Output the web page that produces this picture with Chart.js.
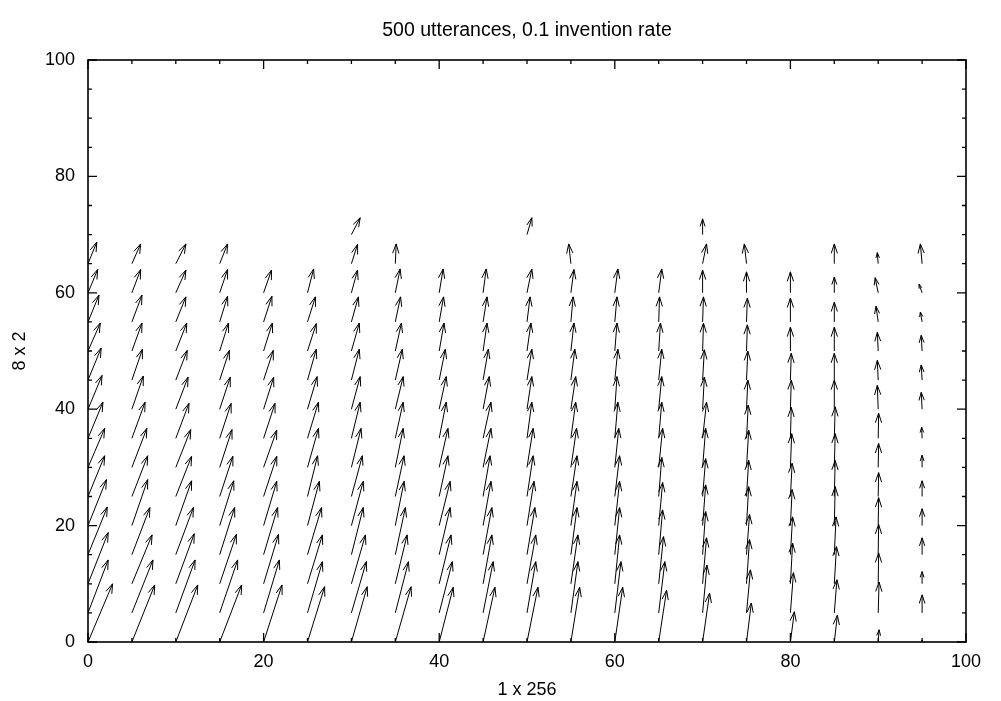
<!DOCTYPE html>
<html>
<head>
<meta charset="utf-8">
<script src="https://cdn.jsdelivr.net/npm/chart.js@4.4.1/dist/chart.umd.min.js"></script>
<style>
  html, body { margin:0; padding:0; background:#fff; }
</style>
</head>
<body>
<canvas id="c" width="1001" height="701"></canvas>
<script>
// grid of arrow origins
const colX = [0,5,10,15,20,25,30,35,40,45,50,55,60,65,70,75,80,85,90,95];
const rowY = [0,5,10,15,20,25,30,35,40,45,50,55,60,65,70];

// arrow components, one line per column (rows y = 0..70), null = no arrow
const dxCols = [
  [2.8,2.3,2.3,2.2,2.1,1.9,1.9,1.7,1.6,1.5,1.4,1.25,1.1,1.0,null],
  [2.6,2.4,2.3,2.05,1.8,1.8,1.7,1.5,1.3,1.2,1.15,1.15,1.0,1.0,null],
  [2.5,2.2,2.1,2.0,1.8,1.8,1.7,1.5,1.4,1.3,1.25,1.15,1.15,1.15,null],
  [2.5,2.05,1.9,1.7,1.6,1.5,1.4,1.3,1.2,1.1,1.0,0.9,0.9,0.9,null],
  [2.1,1.8,1.7,1.6,1.5,1.5,1.5,1.3,1.15,1.1,1.0,0.95,0.9,null,null],
  [1.95,1.7,1.7,1.6,1.35,1.15,1.25,1.25,1.1,1.0,1.0,0.9,0.7,null,null],
  [1.8,1.7,1.6,1.35,1.35,1.25,1.1,1.0,1.0,0.9,0.9,0.8,0.7,0.7,1.0],
  [1.8,1.5,1.35,1.15,1.0,1.0,0.9,0.9,0.9,0.8,0.7,0.6,0.55,0.1,null],
  [1.6,1.5,1.35,1.25,1.25,1.0,1.0,0.8,0.8,0.7,0.55,0.5,0.45,null,null],
  [1.35,1.15,1.0,1.0,0.9,0.8,0.9,0.9,0.7,0.6,0.45,0.45,0.35,null,null],
  [1.25,1.0,1.0,0.9,0.8,0.7,0.7,0.55,0.55,0.55,0.45,0.35,0.55,null,0.55],
  [1.0,0.8,0.8,0.7,0.7,0.7,0.65,0.55,0.55,0.45,0.35,0.25,0.35,-0.25,null],
  [0.9,0.7,0.55,0.55,0.55,0.55,0.45,0.35,0.25,0.35,0.25,0.25,0.35,null,null],
  [0.9,0.7,0.55,0.45,0.45,0.35,0.45,0.35,0.35,0.35,0.2,0.1,0.35,null,null],
  [0.8,0.5,0.45,0.35,0.35,0.35,0.35,0.45,0.2,0.2,0.1,0.1,0.0,0.45,0.0],
  [0.55,0.45,0.35,0.35,0.25,0.25,0.25,0.2,0.15,0.15,0.1,0.1,0.0,-0.25,null],
  [0.45,0.35,0.25,0.25,0.2,0.2,0.15,0.1,0.1,0.1,0.0,0.0,0.0,null,null],
  [0.35,0.3,0.25,0.2,0.1,0.1,0.1,0.1,0.0,0.0,0.0,0.0,0.0,0.0,null],
  [0.1,0.1,0.05,0.05,0.05,0.05,0.05,0.05,-0.1,-0.1,-0.1,-0.25,-0.35,-0.1,null],
  [0.0,0.0,0.0,0.0,0.0,0.0,0.0,-0.05,-0.1,-0.1,-0.1,-0.2,-0.35,-0.2,null]
];
const dyCols = [
  [10.0,9.1,8.8,8.2,7.9,7.0,6.7,6.2,5.8,5.5,4.8,4.6,4.0,3.7,null],
  [9.8,9.1,8.4,8.1,7.9,7.0,6.7,6.2,5.7,5.3,4.8,4.6,4.0,3.4,null],
  [9.8,9.1,8.6,8.1,7.7,6.9,6.5,6.0,5.5,5.1,4.8,4.3,3.9,3.4,null],
  [9.8,9.1,8.5,8.1,7.7,6.9,6.5,6.0,5.5,5.1,4.8,4.4,4.0,3.4,null],
  [9.8,9.1,8.5,8.1,7.6,6.9,6.4,6.0,5.5,5.1,4.8,4.4,3.9,null,null],
  [9.5,8.8,8.4,8.1,7.6,7.0,6.7,6.2,5.6,5.3,4.7,4.3,4.1,null,null],
  [9.5,8.8,8.4,8.1,7.6,7.0,6.7,6.2,5.6,5.3,4.8,4.3,3.9,3.3,2.9],
  [9.5,8.8,8.4,8.1,7.6,7.0,6.7,6.2,5.6,5.3,4.8,4.3,4.1,3.4,null],
  [9.4,8.8,8.4,8.1,7.6,7.0,6.7,6.2,5.6,5.3,4.8,4.3,4.1,null,null],
  [9.4,8.8,8.4,8.1,7.6,7.0,6.7,6.2,5.6,5.3,4.8,4.3,4.1,null,null],
  [9.4,8.8,8.4,8.1,7.6,7.0,6.7,6.2,5.6,5.3,4.8,4.3,4.1,null,2.9],
  [9.4,8.8,8.4,8.1,7.6,7.0,6.7,6.2,5.6,5.3,4.8,4.3,4.0,3.4,null],
  [9.4,8.8,8.4,8.1,7.6,7.0,6.7,6.2,5.6,5.3,4.8,4.3,4.1,null,null],
  [8.9,8.8,8.1,7.7,7.4,6.7,6.7,6.2,5.6,5.3,4.8,4.3,4.1,null,null],
  [8.4,8.2,7.9,7.4,7.0,6.5,6.7,6.2,5.5,5.2,4.8,4.3,3.9,3.4,2.7],
  [6.7,7.4,7.6,6.9,6.7,6.2,6.4,5.7,5.0,5.0,4.5,4.1,3.6,3.4,null],
  [5.2,6.9,7.0,6.5,6.2,5.7,5.8,5.3,5.0,4.6,4.1,4.1,3.6,null,null],
  [4.6,5.7,6.4,6.5,6.7,6.2,5.8,5.4,5.0,4.6,4.1,3.4,2.7,3.4,null],
  [2.1,5.3,5.3,5.2,4.8,4.1,4.1,4.3,4.1,3.4,3.2,2.7,2.6,1.9,null],
  [0.3,3.1,2.1,2.9,2.9,2.7,2.1,1.9,2.9,2.6,2.7,1.7,1.5,3.4,null]
];

const majorTicks = [0,20,40,60,80,100];
const minorTicks = [5,10,15,25,30,35,45,50,55,65,70,75,85,90,95];

const arrows = [];
colX.forEach((x,i)=>{
  rowY.forEach((y,j)=>{
    const dx = dxCols[i][j], dy = dyCols[i][j];
    if(dx === null || dy === null) return;
    arrows.push({x:x, y:y, dx:dx, dy:dy});
  });
});

const FONT = "'Liberation Sans', Arial, Helvetica, sans-serif";

// gnuplot-like border with mirrored major/minor tics
const framePlugin = {
  id:'frame',
  afterDraw(chart){
    const {ctx, chartArea:a, scales:{x:sx, y:sy}} = chart;
    ctx.save();
    ctx.strokeStyle = '#000';
    ctx.lineWidth = 1.6;
    ctx.strokeRect(a.left, a.top, a.right-a.left, a.bottom-a.top);
    ctx.lineWidth = 1.3;
    const tic = (vals, len)=>{
      vals.forEach(v=>{
        const px = sx.getPixelForValue(v), py = sy.getPixelForValue(v);
        ctx.beginPath();
        ctx.moveTo(px, a.bottom); ctx.lineTo(px, a.bottom-len);
        ctx.moveTo(px, a.top); ctx.lineTo(px, a.top+len);
        ctx.moveTo(a.left, py); ctx.lineTo(a.left+len, py);
        ctx.moveTo(a.right, py); ctx.lineTo(a.right-len, py);
        ctx.stroke();
      });
    };
    tic(majorTicks, 9);
    tic(minorTicks, 4);
    ctx.restore();
  }
};

// vectors: origin (x,y), tip (x+dx, y+dy), open arrowhead
const vectorPlugin = {
  id:'vectors',
  afterDatasetsDraw(chart){
    const {ctx, scales:{x:sx, y:sy}} = chart;
    ctx.save();
    ctx.strokeStyle = '#000';
    ctx.lineWidth = 1;
    chart.data.datasets[0].data.forEach(p=>{
      const x0 = sx.getPixelForValue(p.x), y0 = sy.getPixelForValue(p.y);
      const x1 = sx.getPixelForValue(p.x+p.dx), y1 = sy.getPixelForValue(p.y+p.dy);
      const len = Math.hypot(x1-x0, y1-y0);
      if(len < 0.5) return;
      const hl = Math.min(10, len*0.5);
      const ang = Math.atan2(y1-y0, x1-x0);
      const sp = 0.32;
      ctx.beginPath();
      ctx.moveTo(x0, y0); ctx.lineTo(x1, y1);
      ctx.moveTo(x1 - hl*Math.cos(ang-sp), y1 - hl*Math.sin(ang-sp));
      ctx.lineTo(x1, y1);
      ctx.lineTo(x1 - hl*Math.cos(ang+sp), y1 - hl*Math.sin(ang+sp));
      ctx.stroke();
    });
    ctx.restore();
  }
};

const ctx = document.getElementById('c').getContext('2d');
new Chart(ctx, {
  type:'scatter',
  data:{ datasets:[{ label:'vectors', data:arrows, pointRadius:0, pointHoverRadius:0, showLine:false }] },
  options:{
    responsive:false,
    animation:false,
    events:[],
    layout:{ padding:{ left:0, right:35, top:0, bottom:0 } },
    plugins:{
      legend:{ display:false },
      tooltip:{ enabled:false },
      title:{
        display:true,
        fullSize:false,
        text:'500 utterances, 0.1 invention rate',
        color:'#000',
        font:{ family:FONT, size:19.5, weight:'normal', lineHeight:1.2 },
        padding:{ top:19, bottom:17.6 }
      }
    },
    scales:{
      x:{
        type:'linear', min:0, max:100,
        afterFit: s => { s.height = 59; },
        grid:{ display:false, drawTicks:false },
        border:{ display:false },
        ticks:{ stepSize:20, padding:9, color:'#000', font:{ family:FONT, size:18 }, maxRotation:0 },
        title:{ display:true, text:'1 x 256', color:'#000', font:{ family:FONT, size:18, lineHeight:1.2 }, padding:{ top:0, bottom:0 } }
      },
      y:{
        type:'linear', min:0, max:100,
        afterFit: s => { s.width = 88; },
        grid:{ display:false, drawTicks:false },
        border:{ display:false },
        ticks:{ stepSize:20, padding:13, color:'#000', font:{ family:FONT, size:18 } },
        title:{ display:true, text:'8 x 2', color:'#000', font:{ family:FONT, size:18, lineHeight:1.2 }, padding:{ top:9, bottom:0 } }
      }
    }
  },
  plugins:[vectorPlugin, framePlugin]
});
</script>
</body>
</html>
